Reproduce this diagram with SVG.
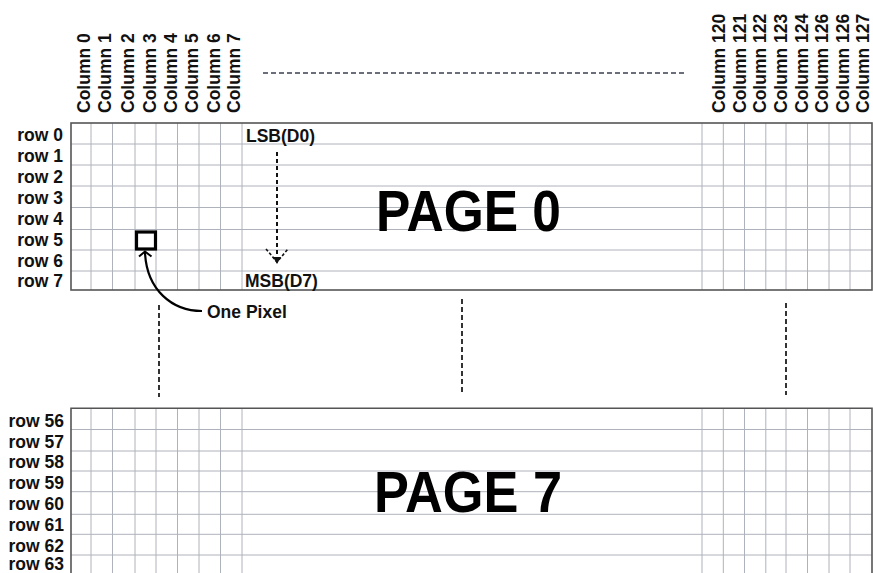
<svg xmlns="http://www.w3.org/2000/svg" width="873" height="573" viewBox="0 0 873 573">
<style>
.lbl{font-family:"Liberation Sans",Arial,sans-serif;font-weight:bold;font-size:17.5px;fill:#111}
.row{text-anchor:end}
.grid{stroke:#aeb2bb;stroke-width:1;fill:none}
.border{stroke:#555;stroke-width:1.6;fill:none}
.vdash{stroke:#333;stroke-width:2;stroke-dasharray:5 3;fill:none}
.page{font-family:"Liberation Sans",Arial,sans-serif;font-weight:bold;font-size:58px;fill:#000}
</style>
<rect width="873" height="573" fill="#fff"/>

<g id="column-labels" class="lbl">
<text transform="translate(89.5,113) rotate(-90)">Column 0</text>
<text transform="translate(111,113) rotate(-90)">Column 1</text>
<text transform="translate(133.5,113) rotate(-90)">Column 2</text>
<text transform="translate(155.5,113) rotate(-90)">Column 3</text>
<text transform="translate(177,113) rotate(-90)">Column 4</text>
<text transform="translate(198,113) rotate(-90)">Column 5</text>
<text transform="translate(219.5,113) rotate(-90)">Column 6</text>
<text transform="translate(239.5,113) rotate(-90)">Column 7</text>
<text transform="translate(725,113) rotate(-90)">Column 120</text>
<text transform="translate(745.5,113) rotate(-90)">Column 121</text>
<text transform="translate(766,113) rotate(-90)">Column 122</text>
<text transform="translate(786.5,113) rotate(-90)">Column 123</text>
<text transform="translate(807.5,113) rotate(-90)">Column 124</text>
<text transform="translate(828,113) rotate(-90)">Column 126</text>
<text transform="translate(849,113) rotate(-90)">Column 126</text>
<text transform="translate(868.5,113) rotate(-90)">Column 127</text>
</g>

<g id="page0">
<g class="grid">
<line x1="71" y1="144" x2="872" y2="144"/>
<line x1="71" y1="165" x2="872" y2="165"/>
<line x1="71" y1="186" x2="872" y2="186"/>
<line x1="71" y1="207.5" x2="872" y2="207.5"/>
<line x1="71" y1="229.5" x2="872" y2="229.5"/>
<line x1="71" y1="250" x2="872" y2="250"/>
<line x1="71" y1="271" x2="872" y2="271"/>
<line x1="91" y1="123" x2="91" y2="290"/>
<line x1="112.5" y1="123" x2="112.5" y2="290"/>
<line x1="135" y1="123" x2="135" y2="290"/>
<line x1="156" y1="123" x2="156" y2="290"/>
<line x1="177.5" y1="123" x2="177.5" y2="290"/>
<line x1="199" y1="123" x2="199" y2="290"/>
<line x1="220.5" y1="123" x2="220.5" y2="290"/>
<line x1="242" y1="123" x2="242" y2="290"/>
<line x1="702" y1="123" x2="702" y2="290"/>
<line x1="723.3" y1="123" x2="723.3" y2="290"/>
<line x1="744.5" y1="123" x2="744.5" y2="290"/>
<line x1="765.8" y1="123" x2="765.8" y2="290"/>
<line x1="786" y1="123" x2="786" y2="290"/>
<line x1="807.5" y1="123" x2="807.5" y2="290"/>
<line x1="829" y1="123" x2="829" y2="290"/>
<line x1="850" y1="123" x2="850" y2="290"/>
</g>
<rect class="border" x="71" y="123" width="801" height="167"/>
<g class="lbl row">
<text x="63" y="141">row 0</text>
<text x="63" y="162">row 1</text>
<text x="63" y="183">row 2</text>
<text x="63" y="204">row 3</text>
<text x="63" y="225">row 4</text>
<text x="63" y="246">row 5</text>
<text x="63" y="267">row 6</text>
<text x="63" y="287">row 7</text>
</g>
<text class="page" x="376" y="230.5" textLength="185" lengthAdjust="spacingAndGlyphs">PAGE 0</text>
<text class="lbl" x="246" y="142">LSB(D0)</text>
<text class="lbl" x="245" y="286.5">MSB(D7)</text>
</g>

<g id="one-pixel">
<rect x="136.5" y="232" width="19" height="17" fill="none" stroke="#000" stroke-width="3.2"/>
<text class="lbl" x="207" y="318">One Pixel</text>
</g>

<g id="page7">
<g class="grid">
<line x1="71" y1="429.5" x2="872" y2="429.5"/>
<line x1="71" y1="451" x2="872" y2="451"/>
<line x1="71" y1="471" x2="872" y2="471"/>
<line x1="71" y1="491.7" x2="872" y2="491.7"/>
<line x1="71" y1="514.3" x2="872" y2="514.3"/>
<line x1="71" y1="534.3" x2="872" y2="534.3"/>
<line x1="71" y1="555" x2="872" y2="555"/>
<line x1="91" y1="408" x2="91" y2="573"/>
<line x1="112.5" y1="408" x2="112.5" y2="573"/>
<line x1="135" y1="408" x2="135" y2="573"/>
<line x1="156" y1="408" x2="156" y2="573"/>
<line x1="177.5" y1="408" x2="177.5" y2="573"/>
<line x1="199" y1="408" x2="199" y2="573"/>
<line x1="220.5" y1="408" x2="220.5" y2="573"/>
<line x1="242" y1="408" x2="242" y2="573"/>
<line x1="702" y1="408" x2="702" y2="573"/>
<line x1="723.3" y1="408" x2="723.3" y2="573"/>
<line x1="744.5" y1="408" x2="744.5" y2="573"/>
<line x1="765.8" y1="408" x2="765.8" y2="573"/>
<line x1="786" y1="408" x2="786" y2="573"/>
<line x1="807.5" y1="408" x2="807.5" y2="573"/>
<line x1="829" y1="408" x2="829" y2="573"/>
<line x1="850" y1="408" x2="850" y2="573"/>
</g>
<path class="border" d="M71 580 V408.3 H872 V580"/>
<g class="lbl row">
<text x="64" y="426.5">row 56</text>
<text x="64" y="447.5">row 57</text>
<text x="64" y="468">row 58</text>
<text x="64" y="489">row 59</text>
<text x="64" y="510">row 60</text>
<text x="64" y="531">row 61</text>
<text x="64" y="551.5">row 62</text>
<text x="64" y="570">row 63</text>
</g>
<text class="page" x="374" y="512" textLength="188" lengthAdjust="spacingAndGlyphs">PAGE 7</text>
</g>

<g id="connectors">
<line x1="263" y1="73" x2="686" y2="73" stroke="#3a4050" stroke-width="1.5" stroke-dasharray="5 3"/>
<line class="vdash" x1="159" y1="305" x2="159" y2="397"/>
<line class="vdash" x1="462" y1="299" x2="462" y2="392"/>
<line class="vdash" x1="786" y1="303" x2="786" y2="395"/>
<line x1="277" y1="152" x2="277" y2="259" stroke="#111" stroke-width="2" stroke-dasharray="4 3"/>
<polyline points="266,249 277,262 288,249" fill="none" stroke="#111" stroke-width="1.6" stroke-dasharray="3 2"/>
<polygon points="273,257 281,257 277,264" fill="#111"/>
<path d="M202 311 C172 311 147 290 145 253" fill="none" stroke="#000" stroke-width="2.2"/>
<polyline points="139,256.5 145,251.5 151.5,256.5" fill="none" stroke="#000" stroke-width="2"/>
</g>
</svg>
